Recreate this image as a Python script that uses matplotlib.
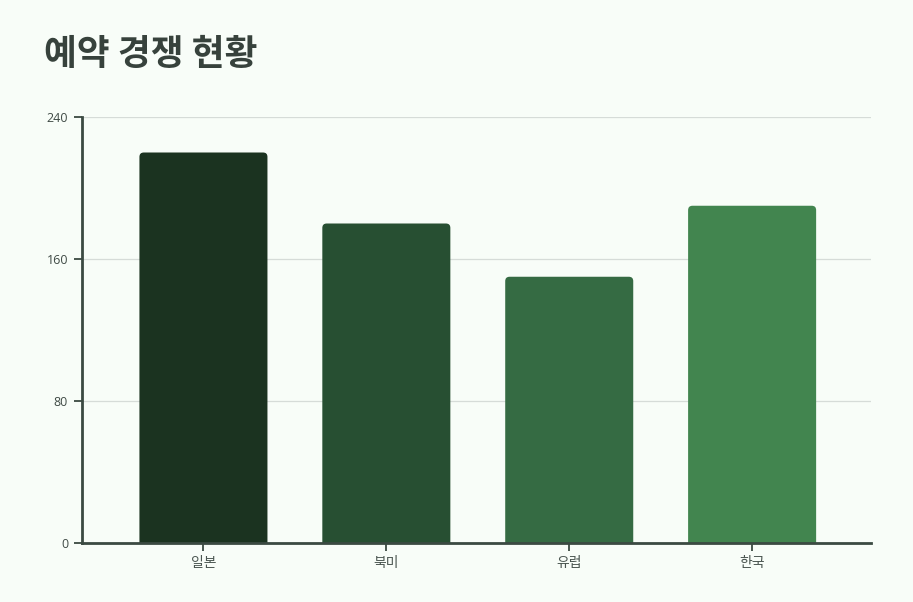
import matplotlib.pyplot as plt
from matplotlib.patches import FancyBboxPatch

plt.rcParams['font.family'] = ['Noto Sans CJK KR', 'DejaVu Sans']

regions = ['일본', '북미', '유럽', '한국']
bookings = [220, 180, 150, 190]
bar_colors = ['#1b3320', '#274f32', '#356b43', '#42854f']
yticks = [0, 80, 160, 240]

bg = '#f8fdf8'
axis_color = '#3b4a42'

fig = plt.figure(figsize=(9.13, 6.02), dpi=100, facecolor=bg)
ax = fig.add_axes([82 / 913, 1 - 543 / 602, (871 - 82) / 913, (543 - 117) / 602])
ax.set_facecolor(bg)

ax.set_xlim(-0.664, 3.65)
ax.set_ylim(0, 240)

width = 0.7
for i, (v, c) in enumerate(zip(bookings, bar_colors)):
    # rounded top corners; bottom goes under the axis and gets clipped
    p = FancyBboxPatch((i - width / 2, -10), width, v + 10,
                       boxstyle='round,pad=0,rounding_size=0.024',
                       mutation_aspect=102, facecolor=c, edgecolor='none',
                       zorder=3, clip_on=True)
    ax.add_patch(p)

ax.set_yticks(yticks)
ax.set_yticklabels([str(t) for t in yticks], family=['Open Sans', 'DejaVu Sans'])
ax.set_xticks(range(len(regions)))
ax.set_xticklabels(regions)
ax.grid(axis='y', color='#d6dcd8', linewidth=0.9, zorder=0)
ax.set_axisbelow(True)

for s in ['top', 'right']:
    ax.spines[s].set_visible(False)
for s in ['left', 'bottom']:
    ax.spines[s].set_color(axis_color)
    ax.spines[s].set_linewidth(2)
    ax.spines[s].set_zorder(4)

ax.tick_params(axis='y', length=6, width=1.3, color=axis_color, labelcolor='#3f4a45',
               labelsize=9, pad=4)
ax.tick_params(axis='x', length=6, width=1.3, color=axis_color, labelcolor='#4a5550',
               labelsize=10, pad=3)

fig.text(44 / 913, 1 - 54 / 602, '예약 경쟁 현황', fontsize=25.7, fontweight='black',
         color='#37423c', va='center', ha='left')

fig.savefig('out.png', dpi=100, facecolor=bg)
